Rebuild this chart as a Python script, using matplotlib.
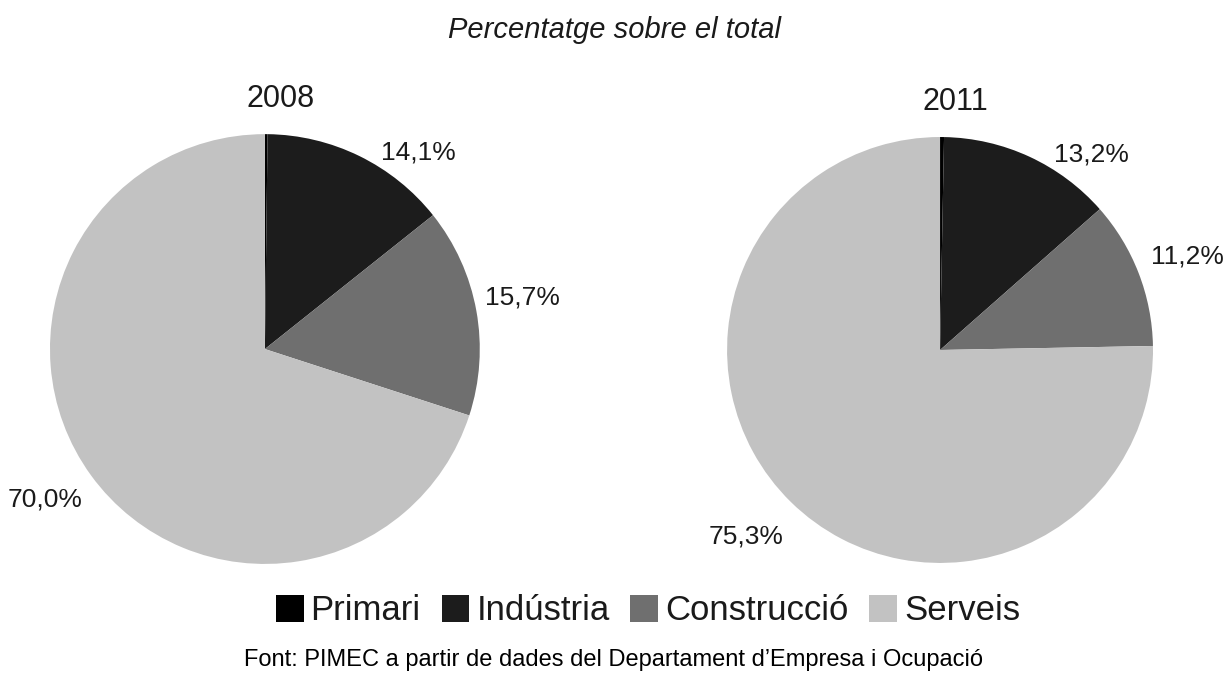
import matplotlib.pyplot as plt
import numpy as np

plt.rcParams['font.family'] = ['Liberation Sans', 'DejaVu Sans']

# dades
sectors = ['Primari', 'Indústria', 'Construcció', 'Serveis']
years = ['2008', '2011']
vals_2008 = [0.2, 14.1, 15.7, 70.0]
vals_2011 = [0.3, 13.2, 11.2, 75.3]
pct_labels_2008 = ['', '14,1%', '15,7%', '70,0%']
pct_labels_2011 = ['', '13,2%', '11,2%', '75,3%']

colors = ['#000000', '#1c1c1c', '#6f6f6f', '#c2c2c2']

# desplaçament d'angle i radi de les etiquetes (estil)
lab_shift_2008 = [0, -12, 1, -1.5]
lab_rad_2008 = [1.15, 1.16, 1.22, 1.24]
lab_shift_2011 = [0, -13, -0.6, -1.7]
lab_rad_2011 = [1.15, 1.16, 1.24, 1.265]

fig = plt.figure(figsize=(12.28, 6.75), dpi=100)

fig.text(0.5, 1 - 30 / 675, 'Percentatge sobre el total', ha='center', va='center',
         fontsize=21, style='italic', color='#1a1a1a')

axes_pos = [[0.0407, 0.1644, 0.350, 0.637], [0.592, 0.166, 0.347, 0.631]]
data = [(vals_2008, pct_labels_2008, lab_shift_2008, lab_rad_2008),
        (vals_2011, pct_labels_2011, lab_shift_2011, lab_rad_2011)]

wedges_all = None
for pos, year, (vals, labs, shifts, rads) in zip(axes_pos, years, data):
    ax = fig.add_axes(pos)
    wedges, _ = ax.pie(vals, colors=colors, startangle=90, counterclock=False,
                       radius=1, wedgeprops=dict(linewidth=0))
    wedges_all = wedges
    for w, lab, sh, r in zip(wedges, labs, shifts, rads):
        if not lab:
            continue
        ang = np.radians((w.theta1 + w.theta2) / 2 + sh)
        ax.text(r * np.cos(ang), r * np.sin(ang), lab, ha='center', va='center',
                fontsize=19, color='#1a1a1a', clip_on=False)
    ax.text(0.072, 1.165, year, ha='center', va='center', fontsize=22, color='#1a1a1a')
    ax.set_xlim(-1, 1)
    ax.set_ylim(-1, 1)
    ax.set_aspect('equal')
    ax.axis('off')

leg = fig.legend(wedges_all, sectors, loc='center', bbox_to_anchor=(648 / 1228, 1 - 611 / 675),
                 ncol=4, frameon=False, fontsize=25, handlelength=0.8, handleheight=0.8,
                 handletextpad=0.2, columnspacing=0.6, labelcolor='#1a1a1a')

fig.text(0.5, 1 - 660 / 675, "Font: PIMEC a partir de dades del Departament d\u2019Empresa i Ocupació",
         ha='center', va='center', fontsize=17, color='#000000')

fig.savefig('out.png', dpi=100)
